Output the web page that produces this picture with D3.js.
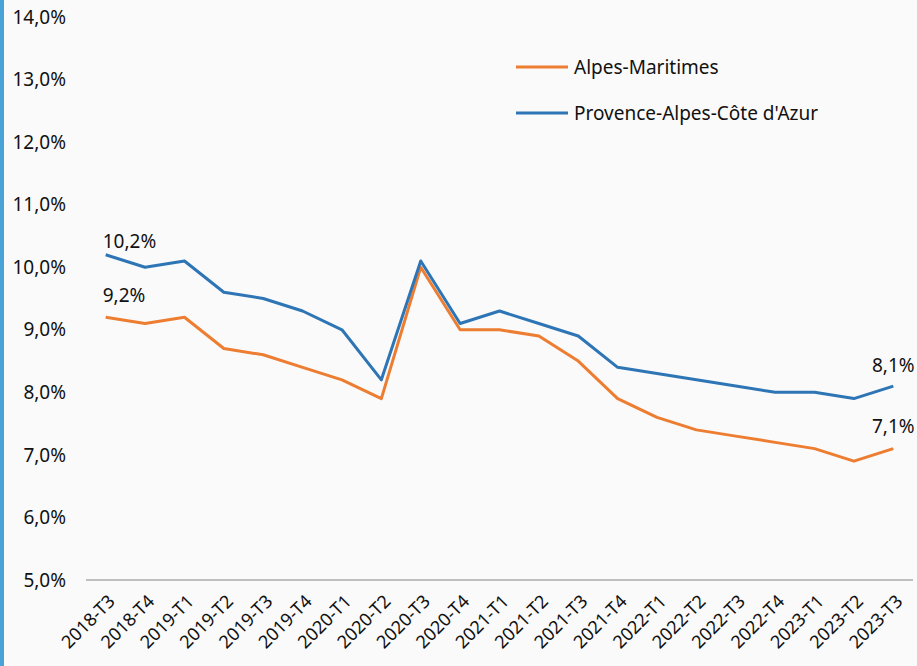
<!DOCTYPE html>
<html>
<head>
<meta charset="utf-8">
<script src="https://d3js.org/d3.v7.min.js"></script>
<style>
  body { margin: 0; background: #fafafa; }
  svg { display: block; font-family: "Noto Sans", sans-serif; }
</style>
</head>
<body>
<div id="chart"></div>
<script>
// quarters
var quarters = ["2018-T3", "2018-T4", "2019-T1", "2019-T2", "2019-T3", "2019-T4",
                "2020-T1", "2020-T2", "2020-T3", "2020-T4", "2021-T1", "2021-T2",
                "2021-T3", "2021-T4", "2022-T1", "2022-T2", "2022-T3", "2022-T4",
                "2023-T1", "2023-T2", "2023-T3"];
var alpesMaritimes = [9.2, 9.1, 9.2, 8.7, 8.6, 8.4, 8.2, 7.9, 10.0, 9.0, 9.0, 8.9,
                      8.5, 7.9, 7.6, 7.4, 7.3, 7.2, 7.1, 6.9, 7.1];
var paca = [10.2, 10.0, 10.1, 9.6, 9.5, 9.3, 9.0, 8.2, 10.1, 9.1, 9.3, 9.1,
            8.9, 8.4, 8.3, 8.2, 8.1, 8.0, 8.0, 7.9, 8.1];
var yTicks = [5, 6, 7, 8, 9, 10, 11, 12, 13, 14];
var seriesNames = ["Alpes-Maritimes", "Provence-Alpes-Côte d'Azur"];
var colors = ["#ed7d31", "#2e75b6"];

var W = 917, H = 666;
var svg = d3.select("#chart").append("svg").attr("width", W).attr("height", H);

svg.append("rect").attr("x", 0).attr("y", 0).attr("width", 4).attr("height", H)
   .attr("fill", "#4aa3d6");

var x = d3.scaleBand().domain(quarters).range([86, 913]);
var y = d3.scaleLinear().domain([5, 14]).range([580, 17]);
var fmt = function(v) { return v.toFixed(1).replace(".", ",") + "%"; };

// y labels
svg.append("g").selectAll("text").data(yTicks).enter().append("text")
   .attr("x", 66).attr("y", function(d) { return y(d); })
   .attr("dy", "0.35em").attr("text-anchor", "end")
   .style("font-size", "19px").attr("fill", "#111")
   .text(fmt);

// x axis line
svg.append("line").attr("x1", 86).attr("x2", 913)
   .attr("y1", y(5)).attr("y2", y(5))
   .attr("stroke", "#bfbfbf").attr("stroke-width", 2);

// x labels
svg.append("g").selectAll("text").data(quarters).enter().append("text")
   .attr("transform", function(d) {
       return "translate(" + (x(d) + x.bandwidth() / 2 + 6) + "," + 598 + ") rotate(-45)";
   })
   .attr("text-anchor", "end").attr("dy", "0.35em")
   .style("font-size", "18px").attr("fill", "#111")
   .text(function(d) { return d; });

var line = d3.line()
   .x(function(d, i) { return x(quarters[i]) + x.bandwidth() / 2; })
   .y(function(d) { return y(d); });

[alpesMaritimes, paca].forEach(function(s, k) {
    svg.append("path").datum(s).attr("d", line)
       .attr("fill", "none").attr("stroke", colors[k])
       .attr("stroke-width", 3).attr("stroke-linejoin", "round");
});

// data labels on first and last points
var cx = function(i) { return x(quarters[i]) + x.bandwidth() / 2; };
var last = quarters.length - 1;
[[paca, 0, 248], [alpesMaritimes, 0, 302]].forEach(function(a) {
    svg.append("text").attr("x", cx(a[1]) - 3).attr("y", a[2])
       .style("font-size", "19px").attr("fill", "#111").text(fmt(a[0][a[1]]));
});
[[paca, last, 372], [alpesMaritimes, last, 433]].forEach(function(a) {
    svg.append("text").attr("x", cx(a[1])).attr("y", a[2]).attr("text-anchor", "middle")
       .style("font-size", "19px").attr("fill", "#111").text(fmt(a[0][a[1]]));
});

// legend
seriesNames.forEach(function(n, i) {
    var ly = 67 + i * 46;
    svg.append("line").attr("x1", 516).attr("x2", 568).attr("y1", ly).attr("y2", ly)
       .attr("stroke", colors[i]).attr("stroke-width", 3);
    svg.append("text").attr("x", 574).attr("y", ly).attr("dy", "0.35em")
       .style("font-size", "19px").attr("fill", "#111").text(n);
});
</script>
</body>
</html>
